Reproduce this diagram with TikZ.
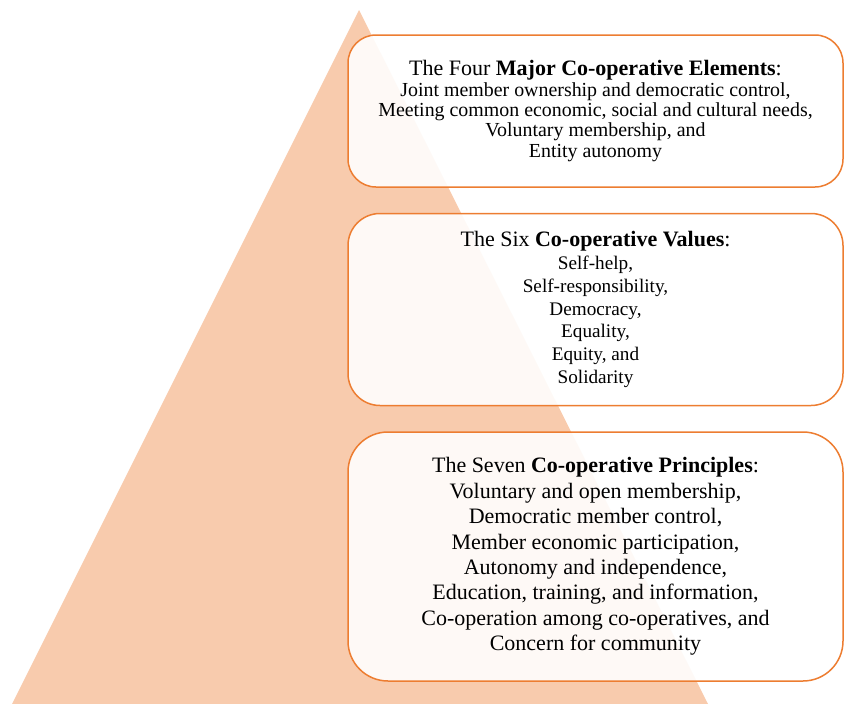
\documentclass[tikz,border=0pt]{standalone}
\usepackage{fontspec}
\setmainfont{Liberation Serif}
\usetikzlibrary{positioning}
\definecolor{peach}{HTML}{F8CBAD}
\definecolor{edge}{HTML}{ED7D31}
\tikzstyle{tier} = [rectangle, draw=edge, line width=1.5pt, fill=white, fill opacity=0.9, text opacity=1, minimum width=495pt, inner sep=0pt, align=center, text=black]
\newcommand{\tiergap}{25pt}
\newcommand{\head}[2]{{\fontsize{22pt}{#2}\selectfont #1}}

\begin{document}
\begin{tikzpicture}[x=1pt, y=-1pt]

  \useasboundingbox (0,0) rectangle (844,704);

  % background pyramid
  \fill[peach] (12,704) -- (359,10) -- (708,704) -- cycle;

  \node (elements) [tier, minimum height=152pt, rounded corners=28pt,
        font=\fontsize{19.9pt}{20.3pt}\selectfont] at (595.5,111)
        {\head{The Four \textbf{Major Co-operative Elements}:}{20.3pt}\\
         Joint member ownership and democratic control,\\
         Meeting common economic, social and cultural needs,\\
         Voluntary membership, and\\
         Entity autonomy};

  \node (values) [tier, minimum height=192pt, rounded corners=32pt,
        font=\fontsize{19.2pt}{22.8pt}\selectfont, below=\tiergap of elements]
        {\head{The Six \textbf{Co-operative Values}:}{22.8pt}\\
         Self-help,\\
         Self-responsibility,\\
         Democracy,\\
         Equality,\\
         Equity, and\\
         Solidarity};

  \node (principles) [tier, minimum height=249pt, rounded corners=40pt,
        font=\fontsize{22pt}{25.4pt}\selectfont, below=\tiergap of values]
        {\head{The Seven \textbf{Co-operative Principles}:}{25.4pt}\\
         Voluntary and open membership,\\
         Democratic member control,\\
         Member economic participation,\\
         Autonomy and independence,\\
         Education, training, and information,\\
         Co-operation among co-operatives, and\\
         Concern for community};

\end{tikzpicture}
\end{document}
